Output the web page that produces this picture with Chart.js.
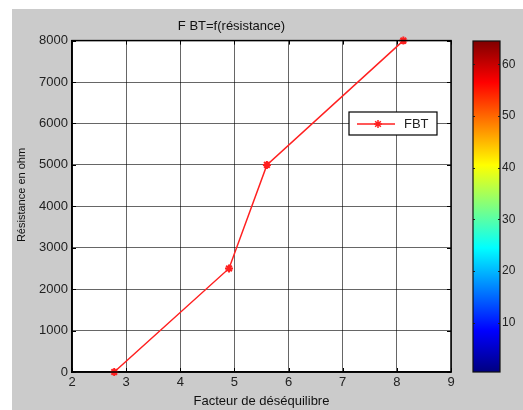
<!DOCTYPE html>
<html>
<head>
<meta charset="utf-8">
<script src="https://cdn.jsdelivr.net/npm/chart.js@4/dist/chart.umd.min.js"></script>
<style>
  body { margin: 0; background: #fff; }
  #wrap { position: relative; width: 523px; height: 410px; }
  #main { position: absolute; left: 0; top: 0; }
  #cbar { position: absolute; left: 460px; top: 0; }
</style>
</head>
<body>
<div id="wrap">
  <canvas id="main" width="523" height="410"></canvas>
  <canvas id="cbar" width="63" height="410"></canvas>
</div>
<script>
// valeurs
const facteur = [2.78, 4.9, 5.6, 8.12];
const resistance = [0, 2500, 5000, 8000];
const xTicks = [2, 3, 4, 5, 6, 7, 8, 9];
const yTicks = [0, 1000, 2000, 3000, 4000, 5000, 6000, 7000, 8000];
const cbarRange = [0.5, 64.5];
const cbarTicks = [10, 20, 30, 40, 50, 60];
const yTitle = 'Résistance en ohm';

const FONT = 'Liberation Sans, Arial, sans-serif';
const GRAY = '#cbcbcb';

// fond gris + zone blanche + cadre + légende
const figurePlugin = {
  id: 'figure',
  beforeDraw(chart) {
    const c = chart.ctx, a = chart.chartArea;
    c.save();
    c.fillStyle = GRAY;
    c.fillRect(12, 9, 511, 401);
    c.fillStyle = '#fff';
    c.fillRect(a.left, a.top, a.right - a.left, a.bottom - a.top);
    c.restore();
  },
  afterDraw(chart) {
    const c = chart.ctx, a = chart.chartArea;
    c.save();
    c.strokeStyle = '#000';
    c.lineWidth = 1.5;
    c.strokeRect(a.left, a.top, a.right - a.left, a.bottom - a.top);

    // petits traits de graduation vers l'intérieur
    c.lineWidth = 1;
    const sx = chart.scales.x, sy = chart.scales.y;
    xTicks.forEach(v => {
      const p = Math.round(sx.getPixelForValue(v)) + 0.5;
      c.beginPath();
      c.moveTo(p, a.bottom); c.lineTo(p, a.bottom - 4);
      c.moveTo(p, a.top); c.lineTo(p, a.top + 4);
      c.stroke();
    });
    yTicks.forEach(v => {
      const p = Math.round(sy.getPixelForValue(v)) + 0.5;
      c.beginPath();
      c.moveTo(a.left, p); c.lineTo(a.left + 4, p);
      c.moveTo(a.right, p); c.lineTo(a.right - 4, p);
      c.stroke();
    });

    // titre de l'axe y (un peu au-dessus du centre, comme sur la figure)
    c.save();
    c.translate(22, 195);
    c.rotate(-Math.PI / 2);
    c.fillStyle = '#111';
    c.font = '11px ' + FONT;
    c.textAlign = 'center';
    c.textBaseline = 'middle';
    c.fillText(yTitle, 0, 0);
    c.restore();

    // légende
    const ds = chart.data.datasets[0];
    c.fillStyle = '#fff';
    c.fillRect(349, 112, 88, 23);
    c.strokeStyle = '#000';
    c.lineWidth = 1.2;
    c.strokeRect(349, 112, 88, 23);
    c.strokeStyle = ds.borderColor;
    c.fillStyle = ds.borderColor;
    c.lineWidth = 1.5;
    c.beginPath();
    c.moveTo(357, 124);
    c.lineTo(395, 124);
    c.stroke();
    Chart.helpers.drawPoint(c, {pointStyle: 'star', radius: 4, borderWidth: 2}, 378, 124);
    c.fillStyle = '#222';
    c.font = '13px ' + FONT;
    c.textBaseline = 'middle';
    c.fillText(ds.label, 404, 124);
    c.restore();
  }
};

new Chart(document.getElementById('main'), {
  type: 'scatter',
  data: {
    datasets: [{
      label: 'FBT',
      data: facteur.map((x, i) => ({x: x, y: resistance[i]})),
      showLine: true,
      borderColor: '#ff2020',
      backgroundColor: '#ff2020',
      borderWidth: 1.5,
      pointStyle: 'star',
      pointRadius: 4,
      pointBorderWidth: 2,
      clip: false
    }]
  },
  options: {
    responsive: false,
    animation: false,
    layout: {padding: {left: 12, right: 72, top: 10, bottom: 0}},
    plugins: {
      legend: {display: false},
      tooltip: {enabled: false},
      title: {
        display: true,
        text: 'F BT=f(résistance)',
        color: '#111',
        font: {family: FONT, size: 13, weight: 'normal'},
        padding: {top: 9, bottom: 6}
      }
    },
    scales: {
      x: {
        type: 'linear',
        min: 2, max: 9,
        afterBuildTicks: s => { s.ticks = xTicks.map(v => ({value: v})); },
        grid: {color: 'rgba(0,0,0,0.6)', drawTicks: false},
        border: {color: '#000', width: 1.5},
        ticks: {padding: 3, color: '#222', font: {family: FONT, size: 13},
                callback: v => String(v)},
        title: {display: true, text: 'Facteur de déséquilibre', color: '#111',
                font: {family: FONT, size: 13}, padding: {top: 0, bottom: 1}},
        afterFit: s => { s.height = 38; }
      },
      y: {
        min: 0, max: 8000,
        afterBuildTicks: s => { s.ticks = yTicks.map(v => ({value: v})); },
        grid: {color: 'rgba(0,0,0,0.6)', drawTicks: false},
        border: {color: '#000', width: 1.5},
        ticks: {padding: 4, color: '#222', font: {family: FONT, size: 13},
                callback: v => String(v)},
        title: {display: false},
        afterFit: s => { s.width = 60; }
      }
    }
  },
  plugins: [figurePlugin]
});

// barre de couleurs (jet)
const cbarTicksPlugin = {
  id: 'cbarTicks',
  afterDraw(chart) {
    const c = chart.ctx, a = chart.chartArea, y = chart.scales.y;
    c.save();
    c.strokeStyle = '#222';
    c.lineWidth = 1;
    cbarTicks.forEach(v => {
      const p = Math.round(y.getPixelForValue(v)) + 0.5;
      c.beginPath();
      c.moveTo(a.left, p); c.lineTo(a.left + 2, p);
      c.moveTo(a.right - 2, p); c.lineTo(a.right, p);
      c.stroke();
    });
    c.strokeStyle = '#111';
    c.lineWidth = 1.2;
    c.strokeRect(a.left, a.top, a.right - a.left, a.bottom - a.top);
    c.restore();
  }
};

new Chart(document.getElementById('cbar'), {
  type: 'bar',
  data: {
    labels: [''],
    datasets: [{
      data: [cbarRange],
      backgroundColor: ctx => {
        const a = ctx.chart.chartArea;
        if (!a) return '#00f';
        const g = ctx.chart.ctx.createLinearGradient(0, a.bottom, 0, a.top);
        g.addColorStop(0, '#000080');
        g.addColorStop(0.125, '#0000ff');
        g.addColorStop(0.375, '#00ffff');
        g.addColorStop(0.625, '#ffff00');
        g.addColorStop(0.875, '#ff0000');
        g.addColorStop(1, '#800000');
        return g;
      },
      borderWidth: 0,
      barPercentage: 1,
      categoryPercentage: 1
    }]
  },
  options: {
    responsive: false,
    animation: false,
    layout: {padding: {left: 13, right: 0, top: 41, bottom: 38}},
    plugins: {legend: {display: false}, tooltip: {enabled: false}},
    scales: {
      x: {display: false},
      y: {
        position: 'right',
        min: cbarRange[0], max: cbarRange[1],
        afterBuildTicks: s => { s.ticks = cbarTicks.map(v => ({value: v})); },
        grid: {display: false, drawTicks: false},
        border: {display: false},
        ticks: {padding: 2, color: '#222', font: {family: FONT, size: 12}},
        afterFit: s => { s.width = 23; }
      }
    }
  },
  plugins: [cbarTicksPlugin]
});
</script>
</body>
</html>
